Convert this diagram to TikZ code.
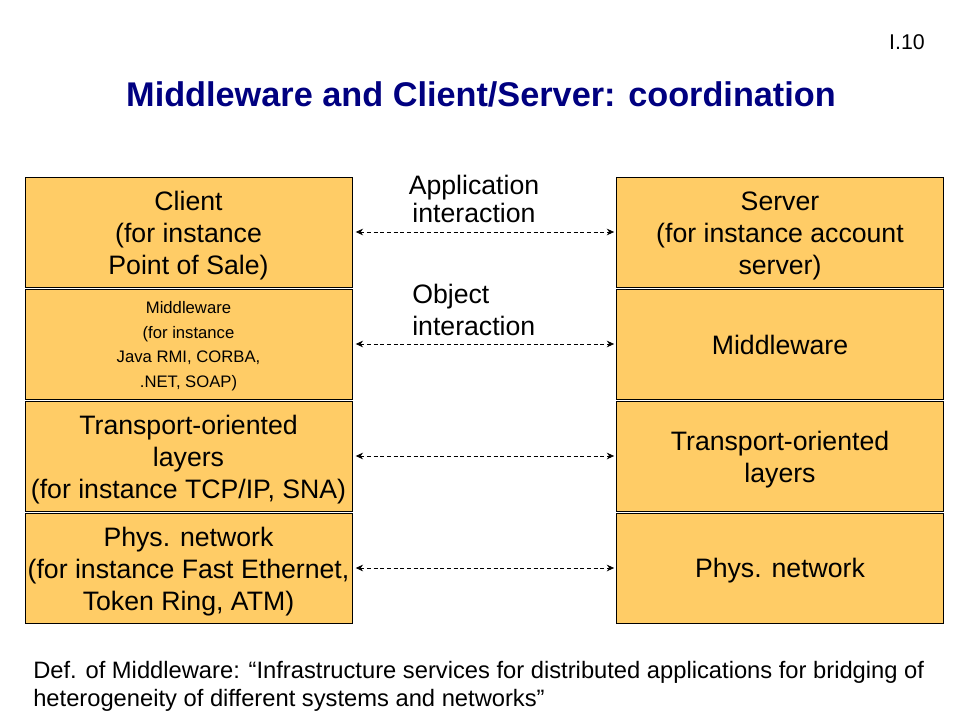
\documentclass[tikz,border=0pt]{standalone}
\usepackage{fontspec}
\setmainfont{Liberation Sans}
\usetikzlibrary{arrows.meta}
\definecolor{boxfill}{HTML}{FFCC66}
\definecolor{titleblue}{HTML}{000080}
\begin{document}
\begin{tikzpicture}[x=0.75pt,y=-0.75pt,
  layerbox/.style={draw=black,line width=0.6pt,fill=boxfill,minimum width=327*0.75pt,minimum height=110*0.75pt,inner sep=0pt},
  boxtext/.style={inner sep=0pt,align=center,font=\fontsize{20}{24}\selectfont},
  smalltext/.style={boxtext,font=\fontsize{12.5}{18.4}\selectfont},
  link/.style={dash pattern=on 3pt off 2pt,line width=0.6pt,{Stealth[length=5.5pt,width=5pt]}-{Stealth[length=5.5pt,width=5pt]}},
  lbl/.style={font=\fontsize{20}{24}\selectfont,inner sep=0pt}]
\useasboundingbox (0,0) rectangle (960,720);
\node[anchor=east,font=\fontsize{16}{19}\selectfont,inner sep=0pt] (page) at (925,42) {I.10};
\node[font=\bfseries\fontsize{25.7}{30}\selectfont,text=titleblue] (title) at (481,94) {Middleware and Client/Server: coordination};
% left column
\node[layerbox] (c1) at (188.5,232) {};
\node[layerbox] (c2) at (188.5,344) {};
\node[layerbox] (c3) at (188.5,456) {};
\node[layerbox] (c4) at (188.5,568) {};
% right column
\node[layerbox] (s1) at (780,232) {};
\node[layerbox] (s2) at (780,344) {};
\node[layerbox] (s3) at (780,456) {};
\node[layerbox] (s4) at (780,568) {};
% texts
\node[boxtext] (c1t) at ([yshift=-3pt]c1.center) {Client\\(for instance\\ Point of Sale)};
\node[smalltext] (c2t) at ([yshift=-1.5pt]c2.center) {Middleware\\(for instance\\Java RMI, CORBA,\\ .NET, SOAP)};
\node[boxtext] (c3t) at ([yshift=-3pt]c3.center) {Transport-oriented\\layers\\ (for instance TCP/IP, SNA)};
\node[boxtext] (c4t) at ([yshift=-3pt]c4.center) {Phys. network\\(for instance Fast Ethernet,\\Token Ring, ATM)};
\node[boxtext] (s1t) at ([yshift=-3pt]s1.center) {Server\\(for instance account\\ server)};
\node[boxtext] (s2t) at ([yshift=-1pt]s2.center) {Middleware};
\node[boxtext] (s3t) at ([yshift=-3pt]s3.center) {Transport-oriented\\layers};
\node[boxtext] (s4t) at ([yshift=-2pt]s4.center) {Phys. network};
% links
\draw[link] ([xshift=2.5pt]c1.east) -- ([xshift=-1.5pt]s1.west);
\draw[link] ([xshift=2.5pt]c2.east) -- ([xshift=-1.5pt]s2.west);
\draw[link] ([xshift=2.5pt]c3.east) -- ([xshift=-1.5pt]s3.west);
\draw[link] ([xshift=2.5pt]c4.east) -- ([xshift=-1.5pt]s4.west);
\node[lbl,align=center,font=\fontsize{20}{21}\selectfont] (app) at (474,199) {Application\\interaction};
\node[lbl,align=left,anchor=west] (obj) at (412,310) {Object\\interaction};
\node[anchor=west,align=left,inner sep=0pt,font=\fontsize{17.8}{21}\selectfont] (def) at (33,686) {Def. of Middleware: “Infrastructure services for distributed applications for bridging of\\heterogeneity of different systems and networks”};
\end{tikzpicture}
\end{document}
